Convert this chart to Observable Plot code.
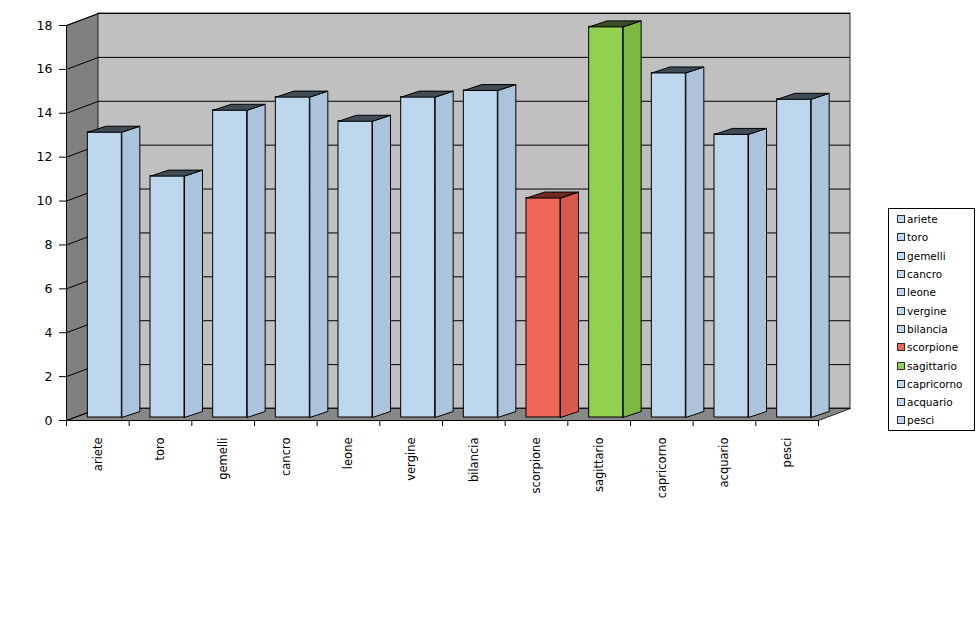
<!DOCTYPE html>
<html>
<head>
<meta charset="utf-8">
<script src="https://cdn.jsdelivr.net/npm/d3@7"></script>
<script src="https://cdn.jsdelivr.net/npm/@observablehq/plot@0.6"></script>
<style>
  body { margin: 0; background: #fff; font-family: "DejaVu Sans", sans-serif; }
  #wrap { position: relative; width: 977px; height: 639px; }
  #chart { position: absolute; left: 0; top: 0; }
  #legend { position: absolute; left: 888px; top: 208px; width: 87px; height: 223px;
            border: 1px solid #000; background: #fff; box-sizing: border-box; padding-top: 1px; }
  .item { height: 18.3px; display: flex; align-items: center; font-size: 10.5px; padding-left: 8px; color: #000; }
  .sw { width: 6px; height: 6px; border: 1.5px solid #2b2b2b; margin-right: 2px; flex: none; }
</style>
</head>
<body>
<div id="wrap">
  <div id="chart"></div>
  <div id="legend"></div>
</div>
<script>
// ---- data ----
const segni = ["ariete", "toro", "gemelli", "cancro", "leone", "vergine", "bilancia",
               "scorpione", "sagittario", "capricorno", "acquario", "pesci"];
const valori = [13, 11, 14, 14.6, 13.5, 14.6, 14.9, 10, 17.8, 15.7, 12.9, 14.5];
const yTicks = [0, 2, 4, 6, 8, 10, 12, 14, 16, 18];

// ---- styles ----
const palette = {
  blue:  { front: "#bdd7ee", side: "#abc3db", top: "#3f4b55" },
  red:   { front: "#f0675a", side: "#d85a4d", top: "#6e2a22" },
  green: { front: "#92d050", side: "#7cb842", top: "#3c4d2a" }
};
const styleOf = s => s === "scorpione" ? palette.red : s === "sagittario" ? palette.green : palette.blue;

// ---- geometry (pixel layout) ----
const W = 880, H = 600, mL = 66, mR = 62, mT = 25, mB = 180;
const pxX = (W - mL - mR) / segni.length;
const pxY = (H - mT - mB) / 18;
const dX = px => px / pxX, dY = px => -px / pxY;
const wall = { dx: 32, dy: -12 }, front = { dx: 7, dy: -3 }, depth = { dx: 18, dy: -6 };
const wx = dX(wall.dx), wy = dY(wall.dy);
const bx = dX(depth.dx), by = dY(depth.dy);
const hw = 17 / pxX;
const x0 = -0.5, x1 = segni.length - 0.5, yMax = 18;

const poly = pts => [...pts, pts[0]].map(([x, y]) => ({ x, y }));
const bars = segni.map((s, i) => ({ i, s, v: valori[i], ...styleOf(s) }));

const chart = Plot.plot({
  width: W, height: H,
  marginLeft: mL, marginRight: mR, marginTop: mT, marginBottom: mB,
  style: { fontFamily: "DejaVu Sans, sans-serif", fontSize: "11px", background: "transparent", color: "#000" },
  x: { type: "linear", domain: [x0, x1], axis: null },
  y: { type: "linear", domain: [0, yMax], axis: null },
  color: { type: "identity" },
  marks: [
    // floor
    Plot.line(poly([[x0, 0], [x1, 0], [x1 + wx, wy], [x0 + wx, wy]]),
      { x: "x", y: "y", fill: "#878787", stroke: "#000", strokeWidth: 0.8 }),
    // left wall
    Plot.line(poly([[x0, 0], [x0 + wx, wy], [x0 + wx, yMax + wy], [x0, yMax]]),
      { x: "x", y: "y", fill: "#808080", stroke: "#000", strokeWidth: 0.8 }),
    // back wall
    Plot.rect([0], { x1: x0, x2: x1, y1: 0, y2: yMax, dx: wall.dx, dy: wall.dy,
      fill: "#c0c0c0", stroke: "#000", strokeWidth: 0.8 }),
    // gridlines on back wall
    Plot.ruleY(yTicks.slice(1), { y: d => d, x1: x0, x2: x1, dx: wall.dx, dy: wall.dy, stroke: "#000", strokeWidth: 1 }),
    // gridlines on left wall
    Plot.link(yTicks, { x1: x0, y1: d => d, x2: x0 + wx, y2: d => d + wy, stroke: "#000", strokeWidth: 1 }),
    // axes
    Plot.axisY(yTicks, { anchor: "left", tickSize: 7, tickPadding: 7, fontSize: 12.5, label: null, tickFormat: d => d }),
    Plot.ruleX([x0], { y1: 0, y2: yMax, stroke: "#000" }),
    Plot.ruleY([0], { x1: x0, x2: x1, stroke: "#000" }),
    Plot.axisX(d3.range(segni.length + 1).map(i => i - 0.5), { anchor: "bottom", tickSize: 6, tickFormat: () => "", label: null }),
    Plot.axisX(d3.range(segni.length), { anchor: "bottom", tickSize: 0, tickPadding: 17, tickRotate: -90,
      tickFormat: i => segni[i], fontSize: 11.5, label: null }),
    // bars: front faces
    Plot.rect(bars, { x1: d => d.i - hw, x2: d => d.i + hw, y1: 0, y2: "v",
      dx: front.dx, dy: front.dy, fill: "front", stroke: "#000", strokeWidth: 1 }),
    // bars: side & top faces
    ...bars.flatMap(d => [
      Plot.line(poly([[d.i + hw, 0], [d.i + hw + bx, by], [d.i + hw + bx, d.v + by], [d.i + hw, d.v]]),
        { x: "x", y: "y", dx: front.dx, dy: front.dy, fill: d.side, stroke: "#000", strokeWidth: 1 }),
      Plot.line(poly([[d.i - hw, d.v], [d.i + hw, d.v], [d.i + hw + bx, d.v + by], [d.i - hw + bx, d.v + by]]),
        { x: "x", y: "y", dx: front.dx, dy: front.dy, fill: d.top, stroke: "#000", strokeWidth: 1 })
    ])
  ]
});
document.getElementById("chart").appendChild(chart);

// legend
const legend = document.getElementById("legend");
segni.forEach(s => {
  const it = document.createElement("div");
  it.className = "item";
  const sw = document.createElement("span");
  sw.className = "sw";
  sw.style.background = styleOf(s).front;
  it.appendChild(sw);
  it.appendChild(document.createTextNode(s));
  legend.appendChild(it);
});
</script>
</body>
</html>
